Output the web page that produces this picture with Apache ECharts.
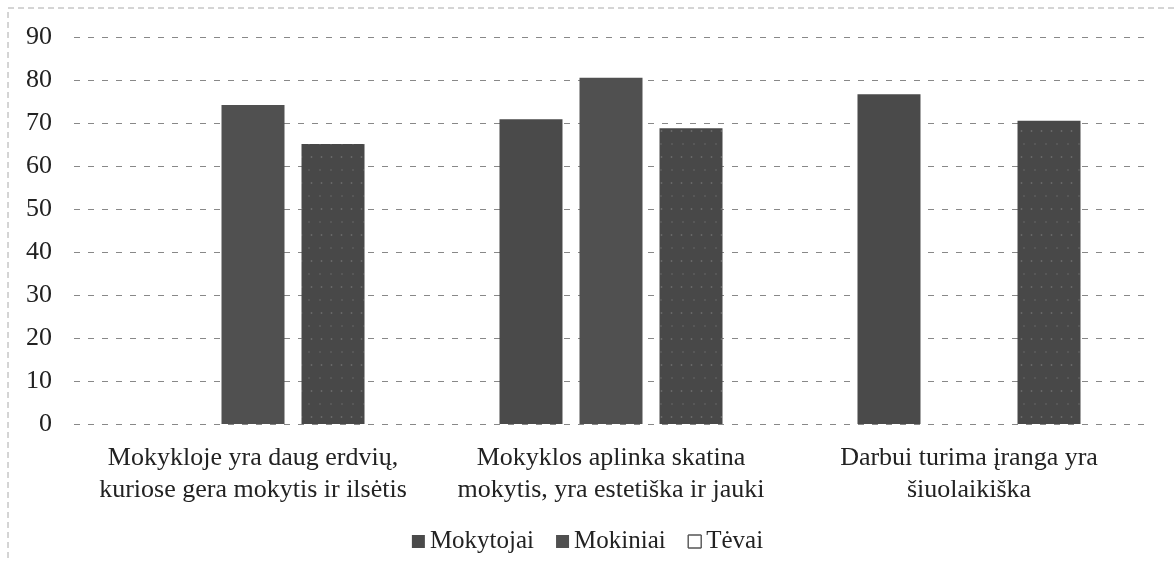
<!DOCTYPE html>
<html>
<head>
<meta charset="utf-8">
<script src="https://cdn.jsdelivr.net/npm/echarts@6/dist/echarts.min.js"></script>
<style>
  html, body { margin: 0; padding: 0; background: #fff; }
  #chart { width: 1175px; height: 562px; }
</style>
</head>
<body>
<div id="chart"></div>
<script>
// categories and values
const categories = [
  "Mokykloje yra daug erdvių,\nkuriose gera mokytis ir ilsėtis",
  "Mokyklos aplinka skatina\nmokytis, yra estetiška ir jauki",
  "Darbui turima įranga yra\nšiuolaikiška"
];
const mokytojai = [null, 70.9, 76.7];
const mokiniai = [74.2, 80.5, null];
const tevai = [65.1, 68.8, 70.5];
const yTicks = { min: 0, max: 90, interval: 10 };

const chart = echarts.init(document.getElementById("chart"));
const font = "Liberation Serif";

chart.setOption({
  backgroundColor: "#fff",
  animation: false,
  textStyle: { fontFamily: font },
  graphic: [
    {
      type: "rect",
      shape: { x: 8, y: 8, width: 1180, height: 570 },
      style: { fill: "none", stroke: "#aaa", lineWidth: 1, lineDash: [6, 4] },
      silent: true
    }
  ],
  grid: { left: 74, right: 27, top: 37, bottom: 138 },
  legend: {
    top: 524,
    left: "center",
    itemWidth: 13,
    itemHeight: 13,
    itemGap: 22,
    textStyle: { fontFamily: font, fontSize: 25, color: "#222" },
    data: [
      { name: "Mokytojai", icon: "rect" },
      { name: "Mokiniai", icon: "rect" },
      { name: "Tėvai", icon: "rect", itemStyle: { color: "#fff", borderColor: "#555", borderWidth: 1 } }
    ]
  },
  xAxis: {
    type: "category",
    data: categories,
    axisLine: { show: false },
    axisTick: { show: false },
    axisLabel: {
      interval: 0,
      margin: 18,
      lineHeight: 32,
      fontFamily: font,
      fontSize: 26,
      color: "#222"
    }
  },
  yAxis: {
    type: "value",
    min: yTicks.min,
    max: yTicks.max,
    interval: yTicks.interval,
    axisLine: { show: false },
    axisTick: { show: false },
    axisLabel: { margin: 22, fontFamily: font, fontSize: 26, color: "#222" },
    splitLine: { lineStyle: { color: "#888", type: [6, 8], width: 1 } }
  },
  series: [
    {
      name: "Mokytojai",
      type: "bar",
      data: mokytojai,
      barWidth: 63,
      barGap: "27%",
      itemStyle: { color: "#4a4a4a" }
    },
    {
      name: "Mokiniai",
      type: "bar",
      data: mokiniai,
      barWidth: 63,
      barGap: "27%",
      itemStyle: { color: "#505050" }
    },
    {
      name: "Tėvai",
      type: "bar",
      data: tevai,
      barWidth: 63,
      barGap: "27%",
      itemStyle: {
        color: "#484848",
        decal: {
          symbol: "rect",
          symbolSize: 0.5,
          color: "rgba(255,255,255,0.35)",
          dashArrayX: [[2, 9], [3, 7]],
          dashArrayY: [2, 11],
          rotation: 0
        }
      }
    }
  ]
});
</script>
</body>
</html>
